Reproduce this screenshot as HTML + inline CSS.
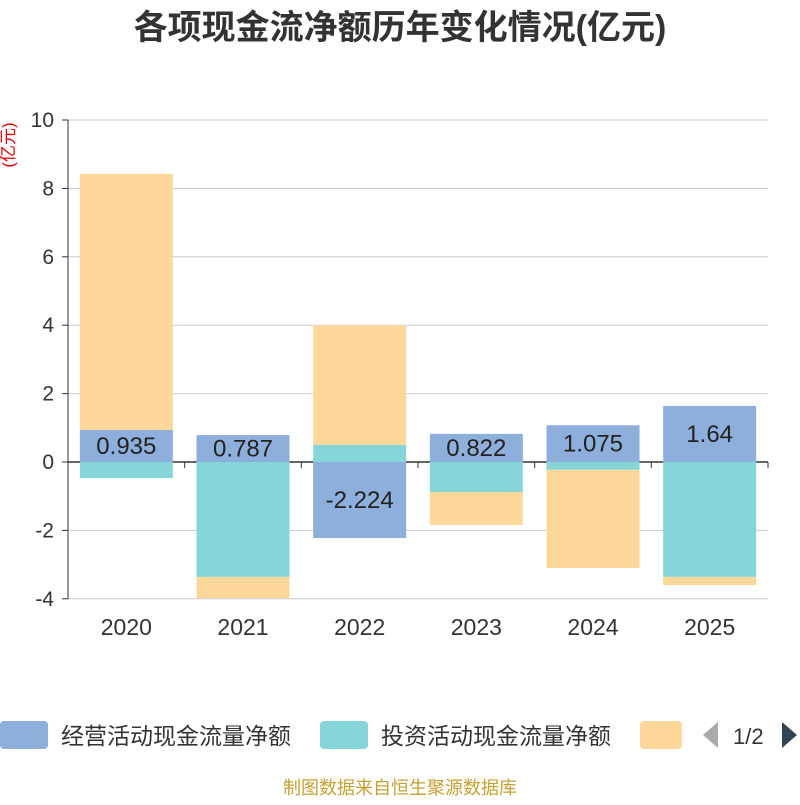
<!DOCTYPE html>
<html><head><meta charset="utf-8"><style>
body{margin:0;background:#fff;font-family:"Liberation Sans","Noto Sans CJK SC",sans-serif}
</style></head><body>
<svg id="c" width="800" height="800" style="font-family:'Liberation Sans','Noto Sans CJK SC',sans-serif">
<text x="400" y="39" text-anchor="middle" font-size="34" font-weight="bold" fill="#333">各项现金流净额历年变化情况(亿元)</text>
<text transform="translate(14,145) rotate(-90)" text-anchor="middle" font-size="17" fill="#e00">(亿元)</text>
<g id="grid"></g><g id="bars"></g><g id="axes"></g>
<g>
<rect x="0" y="721" width="48" height="28" rx="4" fill="#8eaedb"/>
<text x="61" y="744" font-size="23" fill="#333">经营活动现金流量净额</text>
<rect x="320" y="721" width="48" height="28" rx="4" fill="#86d5d9"/>
<text x="381" y="744" font-size="23" fill="#333">投资活动现金流量净额</text>
<rect x="640" y="721" width="42" height="28" rx="4" fill="#fdd89a"/>
<polygon points="718,722 718,748 703,735" fill="#aaa"/>
<text x="733" y="744" font-size="22" fill="#333">1/2</text>
<polygon points="782,722 782,748 797,735" fill="#2f4554"/>
</g>
<text x="400" y="794" text-anchor="middle" font-size="18" fill="#c8a030">制图数据来自恒生聚源数据库</text>
</svg>
<script>
const categories=["2020","2021","2022","2023","2024","2025"];
const operating=[0.935,0.787,-2.224,0.822,1.075,1.64];
const investing=[-0.47,-3.36,0.5,-0.88,-0.23,-3.36];
const financing=[7.49,-0.62,3.5,-0.96,-2.87,-0.24];
const yTicks=[-4,-2,0,2,4,6,8,10];
const opLabels=["0.935","0.787","-2.224","0.822","1.075","1.64"];
const NS="http://www.w3.org/2000/svg";
const x0=68,x1=768,yTop=120,yBot=599;
const y=v=>462-v*34.2;
const bw=(x1-x0)/categories.length;
function mk(tag,attrs,parent){const e=document.createElementNS(NS,tag);for(const k in attrs)e.setAttribute(k,attrs[k]);document.getElementById(parent).appendChild(e);return e;}
yTicks.forEach(t=>{
  const l=mk('line',{x1:x0,x2:x1,y1:y(t),y2:y(t),stroke:t===0?'#333':'#ccc','stroke-width':t===0?1.5:1},'grid');
  
  
  const k=mk('line',{x1:x0-6,x2:x0,y1:y(t),y2:y(t),stroke:'#333'},'axes');
  
  
  const tx=mk('text',{x:x0-14,y:y(t)+7,'text-anchor':'end','font-size':21,fill:'#333'},'axes');
  tx.textContent=t;
  
  
});
const ya=mk('line',{x1:x0,x2:x0,y1:yTop,y2:yBot,stroke:'#333'},'axes');


const series=[[operating,'#8eaedb','operating'],[investing,'#86d5d9','investing'],[financing,'#fdd89a','financing']];
categories.forEach((c,i)=>{
  let pos=0,neg=0;const bx=x0+i*bw+(bw-93)/2;
  series.forEach(([arr,col,nm])=>{
    const v=arr[i];let a,b;
    if(v>=0){a=pos;b=pos+v;pos=b;}else{a=neg;b=neg+v;neg=b;}
    const r=mk('rect',{x:bx,width:93,y:Math.min(y(a),y(b)),height:Math.abs(y(a)-y(b)),fill:col},'bars');
    
    
  });
  const lt=mk('text',{x:bx+46.5,y:(y(0)+y(operating[i]))/2+8,'text-anchor':'middle','font-size':24,fill:'#222'},'bars');
  lt.textContent=opLabels[i];
  
  
  const xt=mk('text',{x:x0+i*bw+bw/2,y:635,'text-anchor':'middle','font-size':23,fill:'#333'},'axes');
  xt.textContent=c;
  
  
});
for(let i=0;i<=categories.length;i++){
  const t=mk('line',{x1:x0+i*bw,x2:x0+i*bw,y1:462,y2:468,stroke:'#333'},'axes');
  
  
}
</script>
</body></html>
